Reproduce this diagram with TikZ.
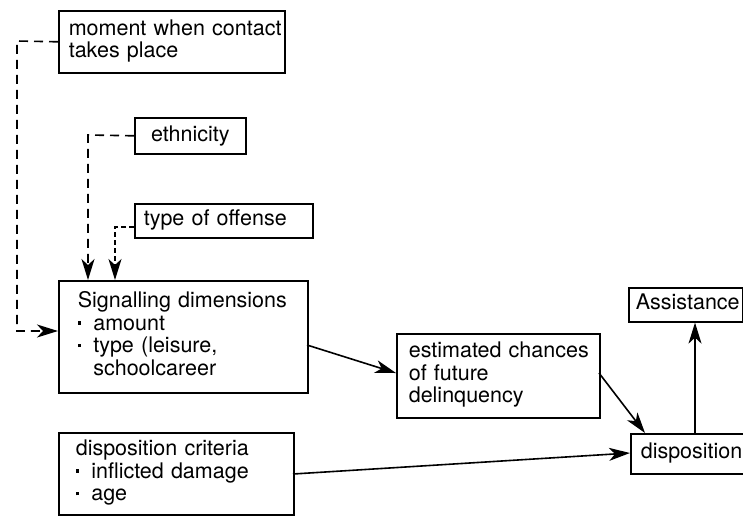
\documentclass[tikz,border=0pt]{standalone}
\usepackage{fontspec}
\setmainfont{TeX Gyre Heros}
\usetikzlibrary{arrows.meta}
% square bullet followed by the item indent
\newcommand{\itm}{\makebox[15.5pt][l]{\rule[5.5pt]{3.5pt}{3.5pt}}}
% indent of a continued item line
\newcommand{\itmcont}{\makebox[15.5pt][l]{}}
% left-aligned block of lines inside a box
\newcommand{\boxlines}[1]{\begin{tabular}{@{}l@{}}#1\end{tabular}}
\begin{document}
\begin{tikzpicture}[x=1pt,y=-1pt,
  box/.style={draw, line width=1.6pt, inner ysep=0pt, anchor=north west,
    align=left, font=\fontsize{21.5}{24.5}\selectfont},
  link/.style={line width=1.6pt, -{Stealth[length=21pt,width=13pt,inset=6pt]}},
  dashlink/.style={link, dash pattern=on 9pt off 6pt},
  finedash/.style={link, dash pattern=on 5pt off 3pt}]
\useasboundingbox (0,0) rectangle (743,517);
\clip (0,0) rectangle (743,517);
\renewcommand{\arraystretch}{0.92}

% boxes
\node[box, inner xsep=10pt, text width=206pt, minimum height=62pt] (moment) at (58,10)
  {\boxlines{moment when contact\\takes place}};
\node[box, inner xsep=8pt, text width=95pt, minimum height=36pt, align=center] (eth) at (134,117)
  {ethnicity};
\node[box, inner xsep=9pt, text width=160pt, minimum height=34pt] (off) at (134,203)
  {\boxlines{type of offense}};
\node[box, inner xsep=19pt, text width=211pt, minimum height=112pt] (sig) at (58,280)
  {\boxlines{Signalling dimensions\\\itm amount\\\itm type (leisure,\\\itmcont schoolcareer}};
\node[box, inner xsep=12pt, text width=179pt, minimum height=84pt] (est) at (396,333)
  {\boxlines{estimated chances\\of future\\delinquency}};
\node[box, inner xsep=7pt, text width=100pt, minimum height=34pt] (ass) at (628,287)
  {\boxlines{Assistance}};
\node[box, inner xsep=10pt, text width=100pt, minimum height=40pt] (disp) at (630,433)
  {\boxlines{disposition}};
\node[box, inner xsep=17pt, text width=201pt, minimum height=82pt] (crit) at (58,432)
  {\boxlines{disposition criteria\\\itm inflicted damage\\\itm age}};

% attachment points
\coordinate (mcorner) at (17,41);
\coordinate (sigin) at (58,331);
\coordinate (ecorner) at (88,135);
\coordinate (ocorner) at (115,227);
\coordinate (offout) at (134,227);
\coordinate (sigout) at (307,345);
\coordinate (estin) at (396,373);
\coordinate (estout) at (599,373);
\coordinate (dispin) at (645,433);
\coordinate (dispup) at (695,433);
\coordinate (critout) at (293,474);
\coordinate (displeft) at (630,453);

% dashed influences on the signalling dimensions
\draw[dashlink] (moment.west) -- (mcorner) -- (mcorner |- sigin) -- (sigin);
\draw[dashlink] (eth.west) -- (ecorner) -- (ecorner |- sig.north);
\draw[finedash] (offout) -- (ocorner) -- (ocorner |- sig.north);

% solid flow
\draw[link] (sigout) -- (estin);
\draw[link] (estout) -- (dispin);
\draw[link] (dispup) -- (dispup |- ass.south);
\draw[link] (critout) -- (displeft);
\end{tikzpicture}
\end{document}
